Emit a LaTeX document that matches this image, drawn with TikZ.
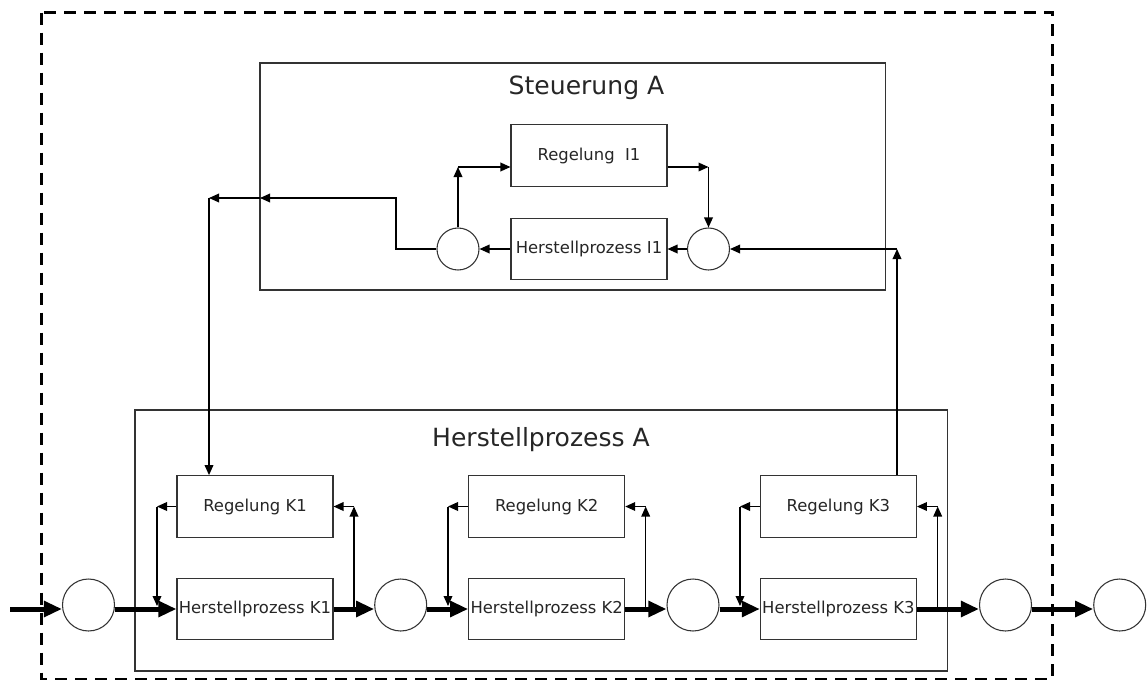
\documentclass[tikz,border=0pt]{standalone}
\usepackage{fontspec}
\setmainfont{DejaVu Sans}
\usetikzlibrary{arrows.meta,calc}
\begin{document}
\begin{tikzpicture}[x=0.75pt,y=-0.75pt,
  box/.style={draw=black!80, line width=0.8pt, fill=white, minimum width=117pt, minimum height=46.3pt, inner sep=0pt, font=\fontsize{12.3}{14}\selectfont, text=black!85},
  bigcirc/.style={circle, draw=black!80, line width=0.8pt, fill=white, minimum size=39pt, inner sep=0pt},
  smallcirc/.style={circle, draw=black!80, line width=0.8pt, fill=white, minimum size=31.5pt, inner sep=0pt},
  frame/.style={draw=black!80, line width=0.8pt},
  title/.style={font=\fontsize{18.8}{22}\selectfont, text=black!85, anchor=base, inner sep=0pt},
  tarrow/.style={line width=1pt, -{Triangle[length=7.5pt,width=6.5pt]}},
  barrow/.style={line width=3.75pt, -{Triangle[length=13.5pt,width=11.5pt]}}
]
\useasboundingbox (0,0) rectangle (1148,682);

% outer frames
\draw[line width=2.2pt, dash pattern=on 9pt off 6pt] (41.7,12.7) rectangle (1052.3,679);
\draw[frame] (260,63) rectangle (885.7,290);
\draw[frame] (135,410) rectangle (947.7,671);
\node[title] (tS) at (586.5,94) {Steuerung A};
\node[title] (tH) at (541,446) {Herstellprozess A};

% Steuerung nodes
\node[box] (ri1) at (589,155.5) {Regelung\ \ I1};
\node[box] (hi1) at (589,249) {Herstellprozess I1};
\node[smallcirc] (cl) at (458,249) {};
\node[smallcirc] (cr) at (708.5,249) {};

% Herstellprozess nodes
\node[box] (rk1) at (255,506.5) {Regelung K1};
\node[box] (hk1) at (255,609) {Herstellprozess K1};
\node[box] (rk2) at (546.7,506.5) {Regelung K2};
\node[box] (hk2) at (546.7,609) {Herstellprozess K2};
\node[box] (rk3) at (838.4,506.5) {Regelung K3};
\node[box] (hk3) at (838.4,609) {Herstellprozess K3};

\node[bigcirc] (c0) at (88.5,605) {};
\node[bigcirc] (c1) at (400.7,605) {};
\node[bigcirc] (c2) at (693,605) {};
\node[bigcirc] (c3) at (1005.5,605) {};
\node[bigcirc] (c4) at (1119.7,605) {};

% coordinates
\coordinate (in) at (10,609);
\coordinate (u1) at (458,167);
\coordinate (u2) at (708.5,167);
\coordinate (u3) at (897,249);
\coordinate (tc) at (396,198);
\coordinate (t1) at (209,198);
\coordinate (k1l) at (157,506.5);
\coordinate (k1r) at (354,506.5);
\coordinate (k2l) at (448,506.5);
\coordinate (k2r) at (645.7,506.5);
\coordinate (k3l) at (740,506.5);
\coordinate (k3r) at (937.7,506.5);

% main thick flow
\draw[barrow] (in) -- (in -| c0.west);
\draw[barrow] (c0.east |- hk1) -- (hk1.west);
\draw[barrow] (hk1.east) -- (hk1.east -| c1.west);
\draw[barrow] (c1.east |- hk2) -- (hk2.west);
\draw[barrow] (hk2.east) -- (hk2.east -| c2.west);
\draw[barrow] (c2.east |- hk3) -- (hk3.west);
\draw[barrow] (hk3.east) -- (hk3.east -| c3.west);
\draw[barrow] (c3.east |- hk3) -- (c4.west |- hk3);

% local feedback loops
\foreach \r/\h/\l/\rr in {rk1/hk1/k1l/k1r, rk2/hk2/k2l/k2r, rk3/hk3/k3l/k3r}{
  \draw[tarrow] (\r.west) -- (\l);
  \draw[tarrow] (\l) -- ($(\l |- \h)+(0,-3)$);
  \draw[tarrow] ($(\rr |- \h)+(0,-2)$) -- (\rr);
  \draw[tarrow] (\rr) -- (\r.east);
}

% Steuerung loop
\draw[tarrow] (hi1.west) -- (cl.east);
\draw[tarrow] (cr.west) -- (hi1.east);
\draw[tarrow] (cl.north) -- (u1);
\draw[tarrow] (u1) -- (u1 -| ri1.west);
\draw[tarrow] (ri1.east |- u2) -- (u2);
\draw[tarrow] (u2) -- (cr.north);
\draw[tarrow] (cl.west) -- (cl.west -| tc) -- (tc) -- (tc -| 260,0);
\draw[tarrow] (tc -| 260,0) -- (t1);
\draw[tarrow] (t1) -- (t1 |- rk1.north);
\draw[tarrow] (rk3.north -| u3) -- (u3);
\draw[tarrow] (u3) -- (cr.east);
\end{tikzpicture}
\end{document}
